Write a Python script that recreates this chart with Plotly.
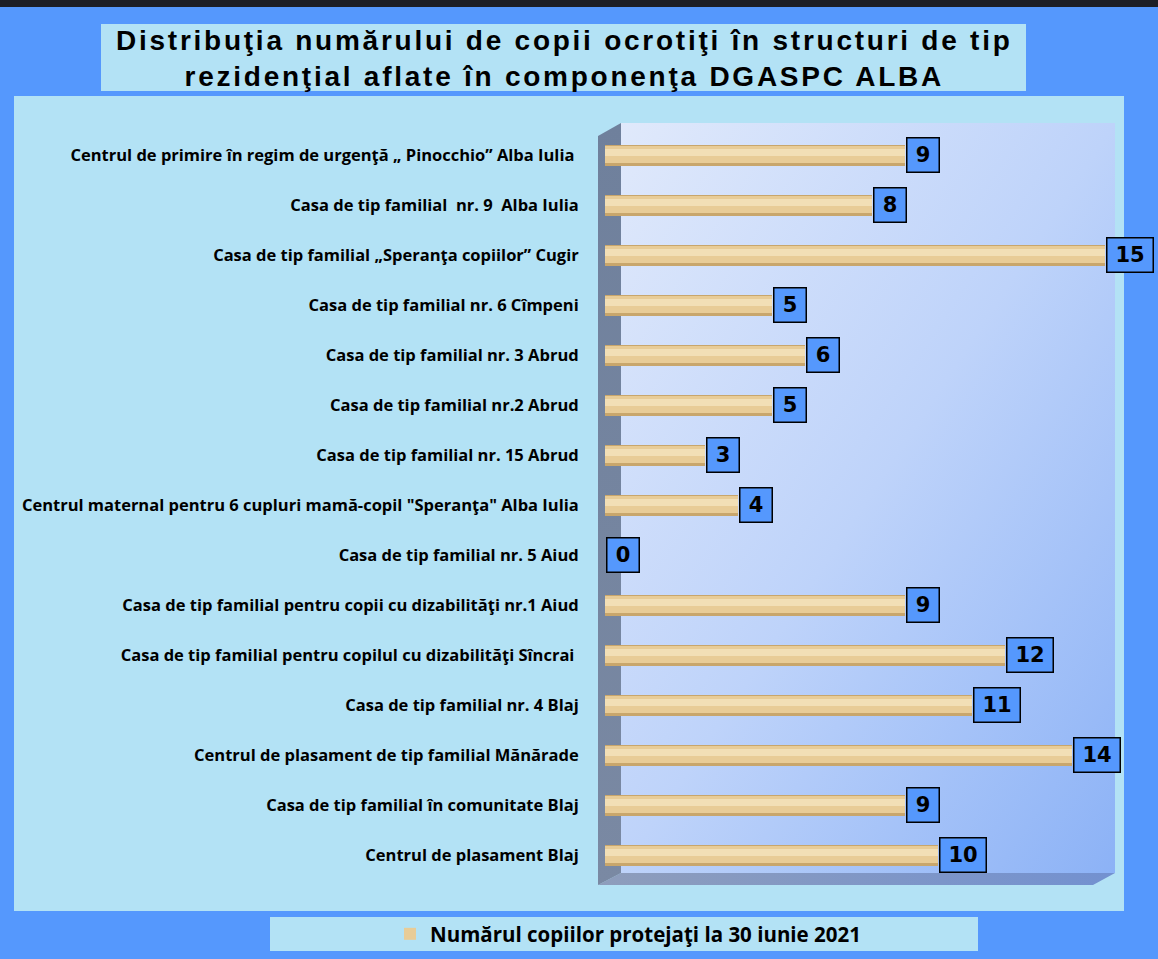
import base64
import plotly.graph_objects as go

# ---------------- data ----------------
categories = [
    "Centrul de primire în regim de urgenţă „ Pinocchio” Alba Iulia ",
    "Casa de tip familial  nr. 9  Alba Iulia",
    "Casa de tip familial „Speranţa copiilor” Cugir",
    "Casa de tip familial nr. 6 Cîmpeni",
    "Casa de tip familial nr. 3 Abrud",
    "Casa de tip familial nr.2 Abrud",
    "Casa de tip familial nr. 15 Abrud",
    "Centrul maternal pentru 6 cupluri mamă-copil \"Speranţa\" Alba Iulia",
    "Casa de tip familial nr. 5 Aiud",
    "Casa de tip familial pentru copii cu dizabilităţi nr.1 Aiud",
    "Casa de tip familial pentru copilul cu dizabilităţi Sîncrai ",
    "Casa de tip familial nr. 4 Blaj",
    "Centrul de plasament de tip familial Mănărade",
    "Casa de tip familial în comunitate Blaj",
    "Centrul de plasament Blaj",
]
values = [9, 8, 15, 5, 6, 5, 3, 4, 0, 9, 12, 11, 14, 9, 10]
series_name = "Numărul copiilor protejaţi la 30 iunie 2021"
title_lines = [
    "Distribuţia numărului de copii ocrotiţi în structuri de tip",
    "rezidenţial aflate în componenţa DGASPC ALBA",
]

# ---------------- geometry helpers ----------------
W, H = 1158, 959


def px(x):
    return x / W


def py(y):
    return 1 - y / H


BLUE = "#5598fd"
CYAN = "#b3e2f5"

fig = go.Figure()

# cylinder-like bars: stacked overlays of decreasing width
fig.add_trace(go.Bar(
    y=categories, x=values, orientation="h", width=0.42,
    marker=dict(color="#c8a66c", line=dict(width=0)),
    showlegend=False, hoverinfo="skip"))
fig.add_trace(go.Bar(
    y=categories, x=values, orientation="h", width=0.34, offset=-0.19,
    marker=dict(color="#e8cc97", line=dict(width=0)),
    name=series_name, showlegend=True))
fig.add_trace(go.Bar(
    y=categories, x=values, orientation="h", width=0.14, offset=-0.13,
    marker=dict(color="#f2dfb6", line=dict(width=0)),
    showlegend=False, hoverinfo="skip"))

# value labels in blue boxes
annotations = []
for c, v in zip(categories, values):
    n = len(str(v))
    annotations.append(dict(
        x=v, y=c, xref="x", yref="y", text=f"<b>{v}</b>",
        showarrow=False, xanchor="left", yanchor="middle", xshift=1,
        font=dict(family="DejaVu Sans", size=21, color="black"),
        bgcolor=BLUE, bordercolor="black", borderwidth=1.5,
        borderpad=4, width=9 + 14 * n, height=25, align="center"))

# title: one text block of two lines
title_html = "<br>".join(
    f'<span style="letter-spacing:2.75px"><b>{t}</b></span>' for t in title_lines)
annotations.append(dict(
    x=px(564), y=py(58), xref="paper", yref="paper",
    text=title_html, showarrow=False,
    xanchor="center", yanchor="middle", align="center",
    font=dict(family="Liberation Sans, Arial", size=28, color="black")))

# background decoration drawn as one SVG (panels, 3-D walls with gradients)
svg = f'''<svg xmlns="http://www.w3.org/2000/svg" width="{W}" height="{H}" viewBox="0 0 {W} {H}" preserveAspectRatio="none">
<defs>
<linearGradient id="back" x1="0" y1="0" x2="1" y2="1">
<stop offset="0" stop-color="#e0e9fb"/>
<stop offset="0.5" stop-color="#bed3fa"/>
<stop offset="1" stop-color="#8cb2f6"/>
</linearGradient>
<linearGradient id="floor" x1="0" y1="0" x2="1" y2="0">
<stop offset="0" stop-color="#8e9dbb"/>
<stop offset="1" stop-color="#7391d0"/>
</linearGradient>
<linearGradient id="lw" x1="0" y1="0" x2="0" y2="1">
<stop offset="0" stop-color="#6f809c"/>
<stop offset="1" stop-color="#7a89a3"/>
</linearGradient>
</defs>
<rect x="0" y="0" width="{W}" height="{H}" fill="{BLUE}"/>
<rect x="0" y="0" width="{W}" height="7" fill="#1d1f26"/>
<rect x="101" y="24" width="925" height="67" fill="{CYAN}"/>
<rect x="14" y="96" width="1110" height="815" fill="{CYAN}"/>
<rect x="270" y="917" width="708" height="34" fill="{CYAN}"/>
<rect x="621" y="123" width="494" height="750" fill="url(#back)"/>
<path d="M598 885 L621 873 L1115 873 L1093 885 Z" fill="url(#floor)"/>
<path d="M598 136 L621 123 L621 873 L598 885 Z" fill="url(#lw)"/>
</svg>'''
svg_uri = "data:image/svg+xml;base64," + base64.b64encode(svg.encode()).decode()

images = [dict(source=svg_uri, xref="paper", yref="paper",
               x=0, y=1, sizex=1, sizey=1, sizing="stretch",
               layer="below", xanchor="left", yanchor="top")]

fig.update_layout(
    width=W, height=H,
    margin=dict(l=0, r=0, t=0, b=0),
    paper_bgcolor=BLUE,
    plot_bgcolor="rgba(0,0,0,0)",
    barmode="overlay",
    bargap=0,
    images=images,
    annotations=annotations,
    showlegend=True,
    legend=dict(
        orientation="h", x=px(628), y=py(934), xanchor="center", yanchor="middle",
        bgcolor="rgba(0,0,0,0)",
        font=dict(family="Open Sans", size=20.5, color="black", weight="bold"),
        itemwidth=30),
    xaxis=dict(
        domain=[px(605), px(1115)], range=[0, 510 / 33.33],
        showgrid=False, zeroline=False, showticklabels=False, showline=False,
        fixedrange=True),
    yaxis=dict(
        domain=[py(880), py(130)], autorange="reversed",
        showgrid=False, zeroline=False, showline=False,
        ticks="outside", ticklen=22, tickcolor="rgba(0,0,0,0)",
        tickfont=dict(family="Open Sans", size=16.5, color="black", weight="bold"),
        fixedrange=True),
)

fig.write_html("out.html", config={"displayModeBar": False},
               post_script="document.body.style.margin='0';")
